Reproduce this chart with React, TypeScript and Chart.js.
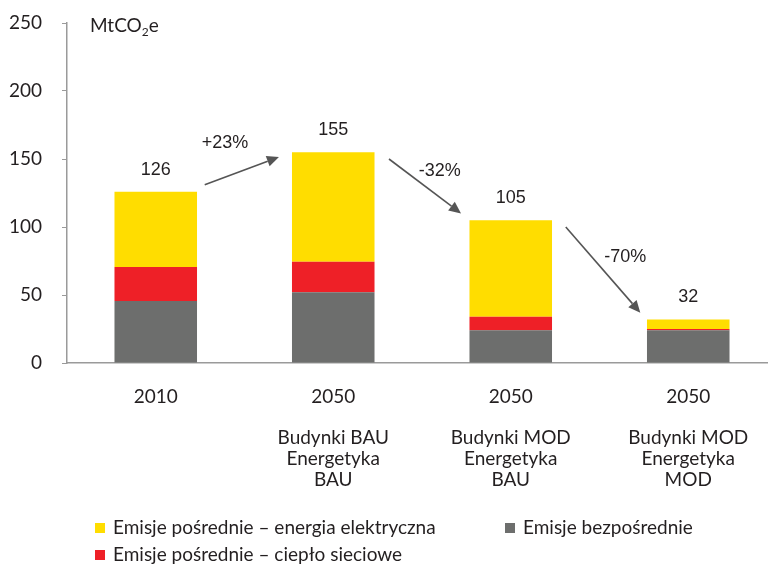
import React, { useEffect, useRef } from "react";
import { Chart, registerables } from "chart.js";

Chart.register(...registerables);

const categories: string[][] = [
  ["2010"],
  ["2050", "", "Budynki BAU", "Energetyka", "BAU"],
  ["2050", "", "Budynki MOD", "Energetyka", "BAU"],
  ["2050", "", "Budynki MOD", "Energetyka", "MOD"],
];
const direct = [45.5, 52, 24, 24];
const heat = [25, 22.5, 10, 1];
const electricity = [55.5, 80.5, 71, 7];
const totals = ["126", "155", "105", "32"];
const yTicks = [0, 50, 100, 150, 200, 250];

// arrows: from (category index, value) to (category index, value)
const arrowFromX = [0.276, 1.314, 2.31];
const arrowFromY = [131, 150, 100];
const arrowToX = [0.694, 1.72, 2.73];
const arrowToY = [151.5, 110, 37];
const arrowLabels = ["+23%", "-32%", "-70%"];
const arrowLabelX = [0.39, 1.6, 2.645];
const arrowLabelY = [162, 141, 78];

const legendLabels = [
  "Emisje pośrednie – energia elektryczna",
  "Emisje bezpośrednie",
  "Emisje pośrednie – ciepło sieciowe",
];

const YELLOW = "#FFDD00";
const RED = "#EE2027";
const GRAY = "#6D6E6D";
const FONT = "Lato, 'Open Sans', sans-serif";
const FONT2 = "'Liberation Sans', Arial, sans-serif";
const TEXT = "#231F20";
const FS = 19;

const overlay = {
  id: "overlay",
  afterDraw(chart: any) {
    const ctx = chart.ctx;
    const x = chart.scales.x;
    const y = chart.scales.y;
    ctx.save();
    ctx.fillStyle = TEXT;
    ctx.textAlign = "center";
    ctx.textBaseline = "middle";
    ctx.font = `18px ${FONT2}`;
    // totals
    totals.forEach((t, i) => {
      const v = direct[i] + heat[i] + electricity[i];
      ctx.fillText(t, x.getPixelForValue(i), y.getPixelForValue(v) - 22);
    });
    // arrows
    ctx.strokeStyle = "#555555";
    ctx.fillStyle = "#555555";
    ctx.lineWidth = 1.6;
    for (let i = 0; i < arrowLabels.length; i++) {
      const x1 = x.getPixelForValue(arrowFromX[i]);
      const y1 = y.getPixelForValue(arrowFromY[i]);
      const x2 = x.getPixelForValue(arrowToX[i]);
      const y2 = y.getPixelForValue(arrowToY[i]);
      const ang = Math.atan2(y2 - y1, x2 - x1);
      const hl = 12;
      const hw = 5.5;
      const bx = x2 - hl * Math.cos(ang);
      const by = y2 - hl * Math.sin(ang);
      ctx.beginPath();
      ctx.moveTo(x1, y1);
      ctx.lineTo(bx, by);
      ctx.stroke();
      ctx.beginPath();
      ctx.moveTo(x2, y2);
      ctx.lineTo(bx + hw * Math.sin(ang), by - hw * Math.cos(ang));
      ctx.lineTo(bx - hw * Math.sin(ang), by + hw * Math.cos(ang));
      ctx.closePath();
      ctx.fill();
    }
    ctx.fillStyle = TEXT;
    arrowLabels.forEach((l, i) => {
      ctx.fillText(l, x.getPixelForValue(arrowLabelX[i]), y.getPixelForValue(arrowLabelY[i]));
    });
    // unit label
    ctx.textAlign = "left";
    ctx.textBaseline = "alphabetic";
    let ux = 90;
    const uy = 32;
    ctx.font = `${FS}px ${FONT}`;
    ctx.fillText("MtCO", ux, uy);
    ux += ctx.measureText("MtCO").width;
    ctx.font = `12px ${FONT}`;
    ctx.fillText("2", ux, uy + 4);
    ux += ctx.measureText("2").width;
    ctx.font = `${FS}px ${FONT}`;
    ctx.fillText("e", ux, uy);
    // legend
    const items = [
      { c: YELLOW, t: legendLabels[0], x: 95, y: 528 },
      { c: GRAY, t: legendLabels[1], x: 505, y: 528 },
      { c: RED, t: legendLabels[2], x: 95, y: 555 },
    ];
    ctx.textBaseline = "middle";
    items.forEach((it) => {
      ctx.fillStyle = it.c;
      ctx.fillRect(it.x, it.y - 5, 10, 10);
      ctx.fillStyle = TEXT;
      ctx.fillText(it.t, it.x + 18, it.y);
    });
    ctx.restore();
  },
};

export default function App() {
  const ref = useRef<HTMLCanvasElement | null>(null);
  useEffect(() => {
    if (!ref.current) return;
    const chart = new Chart(ref.current, {
      type: "bar",
      data: {
        labels: categories,
        datasets: [
          { label: "Emisje bezpośrednie", data: direct, backgroundColor: GRAY },
          { label: "Emisje pośrednie – ciepło sieciowe", data: heat, backgroundColor: RED },
          { label: "Emisje pośrednie – energia elektryczna", data: electricity, backgroundColor: YELLOW },
        ],
      },
      options: {
        animation: false,
        responsive: false,
        maintainAspectRatio: false,
        layout: { padding: { left: 0, top: 23, right: 0, bottom: 0 } },
        datasets: { bar: { categoryPercentage: 1, barPercentage: 0.465 } },
        plugins: { legend: { display: false }, tooltip: { enabled: false } },
        scales: {
          x: {
            stacked: true,
            grid: { display: false, drawTicks: false },
            border: { display: true, color: "#9A9A9A", width: 1.5 },
            ticks: { color: TEXT, font: { family: FONT, size: FS, lineHeight: 1.1 }, padding: 23, maxRotation: 0, autoSkip: false },
            afterFit: (s: any) => { s.height = 201; },
          },
          y: {
            stacked: true,
            min: 0,
            max: 250,
            afterBuildTicks: (s: any) => { s.ticks = yTicks.map((v) => ({ value: v })); },
            grid: { drawOnChartArea: false, drawTicks: true, tickLength: 5, color: "#9A9A9A" },
            border: { display: true, color: "#9A9A9A", width: 1.5 },
            ticks: { color: TEXT, font: { family: FONT, size: FS }, padding: 20 },
            afterFit: (s: any) => { s.width = 67; s.paddingTop = 0; s.paddingBottom = 0; },
          },
        },
      },
      plugins: [overlay],
    });
    return () => chart.destroy();
  }, []);
  return (
    <div style={{ position: "fixed", left: 0, top: 0, width: 768, height: 564, overflow: "hidden", background: "#fff" }}>
      <canvas ref={ref} width={777} height={564} style={{ display: "block" }} />
    </div>
  );
}
